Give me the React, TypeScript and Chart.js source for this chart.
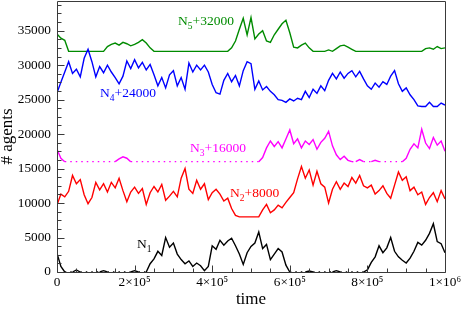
import React, { useEffect, useRef } from 'react';
import { Chart, registerables } from 'chart.js';

Chart.register(...registerables);

const FAMILY = "'Liberation Serif', 'Times New Roman', serif";

// sampling interval of the time series (time units)
const SAMPLE_STEP = 10000;

// N1 .. N5 (raw populations)
const n1 = [
  2700, 800, 0, 0, 0, 300, 0, 0, 0, 0,
  0, 0, 200, 0, 0, 0, 0, 0, 0, 0,
  200, 0, 0, 0, 1200, 1900, 3000, 2400, 5000, 3600,
  4200, 2600, 1800, 1200, 1600, 800, 1300, 900, 200, 800,
  3800, 3300, 4600, 3900, 4500, 4900, 3800, 2600, 1100, 2800,
  3700, 4200, 5800, 3400, 4000, 1800, 2600, 3400, 2900, 1000,
  0, 0, 0, 0, 0, 150, 0, 0, 0, 0,
  0, 0, 200, 0, 0, 0, 0, 0, 0, 0,
  300, 1400, 2200, 3800, 2800, 3500, 5000, 3000, 2200, 1700,
  1300, 2000, 3000, 4300, 3900, 4600, 5600, 7000, 4400, 4100,
  2800,
];
const n2 = [
  1700, 3300, 2900, 3700, 6000, 4800, 5400, 3200, 1900, 2800,
  5000, 3900, 4800, 3600, 5000, 4200, 5600, 3800, 2200, 3600,
  4300, 3400, 4100, 1800, 3500, 4400, 3600, 4700, 2400, 3000,
  3700, 2900, 5600, 7000, 4000, 3400, 5300, 4000, 4800, 2500,
  3500, 4000, 3300, 2300, 2700, 1200, 200, 0, 0, 0,
  0, 0, 0, 1000, 1800, 600, 1000, 1700, 1300, 2100,
  2800, 3500, 5500, 7300, 5600, 6800, 4600, 6600, 4800, 4300,
  2000, 4000, 5100, 4000, 4900, 4400, 5700, 4900, 6000, 4500,
  4200, 4600, 3300, 3800, 4500, 3400, 2700, 4600, 6500, 5300,
  5800, 3800, 4300, 3200, 3600, 1800, 2800, 3500, 2200, 3800,
  2600,
];
const n3 = [
  1800, 500, 0, 0, 0, 0, 0, 0, 0, 0,
  0, 0, 0, 0, 0, 0, 400, 700, 500, 0,
  0, 0, 0, 0, 0, 0, 0, 0, 0, 0,
  0, 0, 0, 0, 0, 0, 0, 0, 0, 0,
  0, 0, 0, 0, 0, 0, 0, 0, 0, 0,
  0, 0, 0, 600, 2000, 3000, 2200, 2900, 2000, 3300,
  4600, 2600, 3300, 2000, 3000, 2500, 3200, 1800, 2800, 3400,
  4400, 2300, 1000, 300, 800, 200, 0, 0, 300, 0,
  0, 0, 200, 0, 0, 0, 0, 0, 0, 0,
  500, 1800, 2600, 2000, 4700, 2700, 1900, 3500, 2400, 3000,
  1500,
];
const n4 = [
  2000, 3500, 5000, 6500, 4800, 5400, 4300, 7000, 8300, 6500,
  4300, 5800, 4900, 6000, 5000, 4200, 3300, 4400, 6600, 5500,
  6800, 5600, 6400, 5300, 6100, 4600, 3000, 4200, 2700, 4600,
  5200, 3000, 4200, 2500, 6300, 5000, 6000, 5300, 6000, 5000,
  3200, 2000, 1800, 3800, 4800, 3600, 4500, 3000, 5200, 6500,
  6200, 2500, 3700, 2400, 2900, 2200, 1700, 1000, 900, 600,
  1100, 800, 1200, 1000, 2200, 1300, 2500, 1900, 3000, 2300,
  3800, 4800, 4000, 5000, 4100, 4800, 5200, 4300, 5100, 4000,
  3000, 2500, 3400, 2800, 3600, 3200, 4400, 5200, 3300, 2200,
  2700, 1700, 1000, 100, 0, 0, 600, 0, 0, 500,
  200,
];
const n5 = [
  2500, 1900, 1600, 0, 0, 0, 0, 0, 0, 0,
  0, 0, 0, 700, 1000, 1200, 900, 1300, 1100, 800,
  1000, 1300, 1700, 1200, 500, 0, 0, 0, 0, 0,
  0, 0, 0, 0, 0, 0, 0, 0, 0, 0,
  0, 0, 0, 0, 0, 500, 1500, 3200, 4800, 2400,
  4900, 1800, 2500, 3000, 1500, 1300, 2400, 3200, 4000, 4500,
  2700, 600, 500, 900, 1200, 500, 0, 0, 0, 0,
  200, 0, 400, 800, 900, 600, 300, 0, 0, 0,
  0, 0, 0, 0, 0, 0, 0, 0, 0, 0,
  0, 0, 0, 0, 0, 400, 500, 300, 700, 400,
  500,
];

const seriesValues = [n1, n2, n3, n4, n5];
const seriesOffsets = [0, 8000, 16000, 24000, 32000];
const seriesSubscripts = ['1', '2', '3', '4', '5'];
const seriesColors = ['#000000', '#ff0000', '#ff00ff', '#0000ff', '#008b00'];
// series whose flat (zero) stretches look dotted in the original
const dottedBaseline = [true, false, true, false, false];
// label anchor (time, plotted value) of each series annotation
const labelTimes = [206000, 446000, 343000, 111000, 312000];
const labelValues = [3480, 10870, 17390, 25360, 35800];

const xTicks = [0, 200000, 400000, 600000, 800000, 1000000];
const xTickLabels = ['0', '2×10⁵', '4×10⁵', '6×10⁵', '8×10⁵', '1×10⁶'];
const yTicks = [0, 5000, 10000, 15000, 20000, 25000, 30000, 35000];
const X_MINOR_STEP = 50000;
const Y_MINOR_STEP = 1250;
const X_MAX = 1000000;
const Y_MAX = 39300;

const decorPlugin = {
  id: 'decor',
  afterDatasetsDraw(chart: any) {
    const { ctx, chartArea, scales } = chart;
    const { left, right, top, bottom } = chartArea;
    const xs = scales.x;
    const ys = scales.y;
    ctx.save();
    ctx.strokeStyle = '#3a3a3a';
    ctx.lineWidth = 1;
    const L = Math.floor(left) + 0.5;
    const R = Math.floor(right) + 0.5;
    const T = Math.floor(top) + 0.5;
    const B = Math.floor(bottom) + 0.5;
    ctx.beginPath();
    ctx.rect(L, T, R - L, B - T);
    ctx.stroke();
    ctx.beginPath();
    for (let v = 0; v <= Y_MAX; v += Y_MINOR_STEP) {
      const major = yTicks.includes(v);
      const py = Math.round(ys.getPixelForValue(v)) + 0.5;
      ctx.moveTo(L, py);
      ctx.lineTo(L + (major ? 7 : 4), py);
    }
    for (let v = 0; v <= X_MAX; v += X_MINOR_STEP) {
      const major = xTicks.includes(v);
      const px = Math.round(xs.getPixelForValue(v)) + 0.5;
      ctx.moveTo(px, B);
      ctx.lineTo(px, B - (major ? 7 : 4));
    }
    ctx.stroke();

    // series annotations
    ctx.textBaseline = 'alphabetic';
    ctx.textAlign = 'left';
    for (let i = 0; i < seriesValues.length; i++) {
      const px = xs.getPixelForValue(labelTimes[i]);
      const py = ys.getPixelForValue(labelValues[i]);
      ctx.fillStyle = seriesColors[i];
      ctx.font = `13.5px ${FAMILY}`;
      ctx.fillText('N', px, py);
      let w = ctx.measureText('N').width;
      ctx.font = `9.5px ${FAMILY}`;
      ctx.fillText(seriesSubscripts[i], px + w, py + 3.5);
      w += ctx.measureText(seriesSubscripts[i]).width;
      if (seriesOffsets[i] > 0) {
        ctx.font = `13.5px ${FAMILY}`;
        ctx.fillText('+' + seriesOffsets[i], px + w, py);
      }
    }
    ctx.restore();
  },
};

export default function App() {
  const ref = useRef<HTMLCanvasElement | null>(null);

  useEffect(() => {
    document.body.style.margin = '0';
    const canvas = ref.current;
    if (!canvas) return;
    const datasets = seriesValues.map((vals, si) => ({
      data: vals.map((v, i) => ({ x: i * SAMPLE_STEP, y: v + seriesOffsets[si] })),
      borderColor: seriesColors[si],
      borderWidth: 1.4,
      pointRadius: 0,
      fill: false,
      tension: 0,
      segment: {
        borderDash: (c: any) =>
          dottedBaseline[si] &&
          c.p0.parsed.y === seriesOffsets[si] &&
          c.p1.parsed.y === seriesOffsets[si]
            ? [1.5, 4]
            : undefined,
      },
    }));
    const chart = new Chart(canvas, {
      type: 'line',
      data: { datasets: datasets as any },
      options: {
        animation: false,
        responsive: false,
        devicePixelRatio: 1,
        layout: { padding: { top: 1, right: 18, left: 0, bottom: 0 } },
        plugins: { legend: { display: false }, tooltip: { enabled: false } },
        scales: {
          x: {
            type: 'linear',
            min: 0,
            max: X_MAX,
            grid: { display: false, drawTicks: false },
            border: { display: false },
            afterBuildTicks: (s: any) => {
              s.ticks = xTicks.map((v) => ({ value: v }));
            },
            afterFit: (s: any) => {
              s.height = 37;
              s.paddingLeft = 0;
              s.paddingRight = 0;
            },
            ticks: {
              autoSkip: false,
              maxRotation: 0,
              padding: 3,
              color: '#000',
              font: { family: FAMILY, size: 13.3 },
              callback: (v: any) => xTickLabels[xTicks.indexOf(Number(v))] ?? '',
            },
            title: {
              display: true,
              text: 'time',
              color: '#000',
              font: { family: FAMILY, size: 17, lineHeight: 1 },
              padding: { top: 0, bottom: 1 },
            },
          },
          y: {
            type: 'linear',
            min: 0,
            max: Y_MAX,
            grid: { display: false, drawTicks: false },
            border: { display: false },
            afterBuildTicks: (s: any) => {
              s.ticks = yTicks.map((v) => ({ value: v }));
            },
            afterFit: (s: any) => {
              s.width = 57;
              s.paddingTop = 0;
              s.paddingBottom = 0;
            },
            ticks: {
              padding: 6,
              color: '#000',
              font: { family: FAMILY, size: 13.3 },
              callback: (v: any) => String(v),
            },
            title: {
              display: true,
              text: '# agents',
              color: '#000',
              font: { family: FAMILY, size: 17, lineHeight: 0.9 },
              padding: { top: 0, bottom: 0 },
            },
          },
        },
      },
      plugins: [decorPlugin],
    });
    return () => chart.destroy();
  }, []);

  return (
    <div style={{ width: 463, height: 309 }}>
      <canvas ref={ref} width={463} height={309} style={{ display: 'block' }} />
    </div>
  );
}
